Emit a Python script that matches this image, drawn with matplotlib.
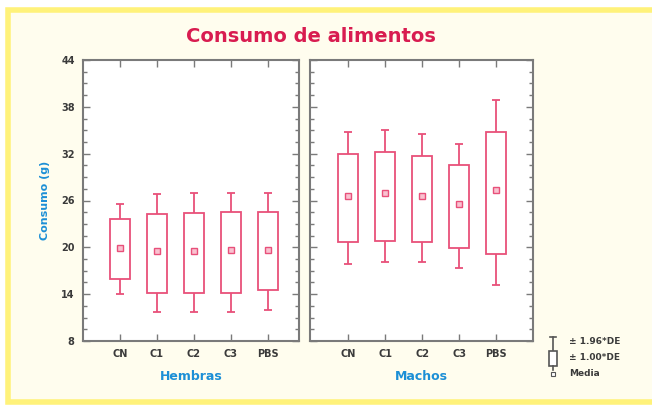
import numpy as np
import matplotlib
matplotlib.use("Agg")
import matplotlib.pyplot as plt
from matplotlib.patches import Rectangle
from matplotlib.lines import Line2D

# Datos
grupos = ['CN', 'C1', 'C2', 'C3', 'PBS']

# Hembras
media_h = [19.9, 19.5, 19.5, 19.6, 19.7]
de1_lo_h = [15.9, 14.2, 14.2, 14.2, 14.5]
de1_hi_h = [23.6, 24.3, 24.4, 24.5, 24.5]
de196_lo_h = [14.0, 11.7, 11.7, 11.7, 12.0]
de196_hi_h = [25.5, 26.8, 27.0, 27.0, 27.0]

# Machos
media_m = [26.6, 26.9, 26.6, 25.5, 27.4]
de1_lo_m = [20.7, 20.8, 20.7, 19.9, 19.1]
de1_hi_m = [31.9, 32.2, 31.7, 30.5, 34.8]
de196_lo_m = [17.9, 18.1, 18.1, 17.3, 15.2]
de196_hi_m = [34.8, 35.0, 34.5, 33.2, 38.9]

rojo = '#E8507A'
azul = '#1C8FD6'
gris = '#7a7a7a'
texto = '#3a3a3a'

fig = plt.figure(figsize=(6.52, 4.05), dpi=100)
fig.patch.set_facecolor('white')

# marco amarillo (sin borde a la derecha)
fig.add_artist(Rectangle((7.5 / 652, 1 - 401.5 / 405), 1.1, (401.5 - 9.5) / 405,
                         transform=fig.transFigure, facecolor='#FFFDEE',
                         edgecolor='#FFF27A', linewidth=4, zorder=0))

fig.text(311 / 652, 1 - 37 / 405, 'Consumo de alimentos', ha='center', va='center',
         fontsize=14, fontweight='bold', color='#D81C50')

ax1 = fig.add_axes([83 / 652, 64 / 405, 216 / 652, 281 / 405])
ax2 = fig.add_axes([310 / 652, 64 / 405, 223 / 652, 281 / 405])


def dibujar(ax, media, lo1, hi1, lo2, hi2, xlim, etiqueta):
    x = np.arange(1, len(grupos) + 1)
    lo1 = np.array(lo1)
    hi1 = np.array(hi1)
    ax.bar(x, hi1 - lo1, bottom=lo1, width=0.54, fill=False, edgecolor=rojo,
           linewidth=1.3, zorder=3)
    ax.vlines(x, lo2, lo1, color=rojo, linewidth=1.3, zorder=3)
    ax.vlines(x, hi1, hi2, color=rojo, linewidth=1.3, zorder=3)
    ax.hlines(lo2, x - 0.1, x + 0.1, color=rojo, linewidth=1.3, zorder=3)
    ax.hlines(hi2, x - 0.1, x + 0.1, color=rojo, linewidth=1.3, zorder=3)
    ax.plot(x, media, 's', ms=4.5, mfc='#F9C2D0', mec=rojo, mew=1.0, zorder=4)

    ax.set_xlim(*xlim)
    ax.set_ylim(8, 44)
    ax.set_xticks(x)
    ax.set_xticklabels(grupos, fontsize=7, fontweight='bold', color=texto)
    ax.set_yticks(np.arange(8, 45, 6))
    ax.set_yticks(np.arange(8, 44.1, 1.5), minor=True)
    ax.tick_params(which='both', direction='in', top=True, right=True,
                   color=gris, width=1.0)
    ax.tick_params(which='major', length=5, pad=6)
    ax.tick_params(which='minor', length=3)
    ax.set_facecolor('white')
    for s in ax.spines.values():
        s.set_color(gris)
        s.set_linewidth(1.5)
    ax.set_xlabel(etiqueta, fontsize=9, fontweight='bold', color=azul, labelpad=8)


dibujar(ax1, media_h, de1_lo_h, de1_hi_h, de196_lo_h, de196_hi_h, (0, 5.84), 'Hembras')
dibujar(ax2, media_m, de1_lo_m, de1_hi_m, de196_lo_m, de196_hi_m, (-0.03, 6.0), 'Machos')

ax1.set_yticklabels([str(v) for v in range(8, 45, 6)], fontsize=7,
                    fontweight='bold', color=texto)
ax1.set_ylabel('Consumo (g)', fontsize=8, fontweight='bold', color=azul, labelpad=8)
ax2.set_yticklabels([])

# leyenda
lx = 553 / 652


def fy(p):
    return 1 - p / 405


fig.add_artist(Line2D([lx, lx], [fy(337), fy(350)], color='#555555', lw=1.2))
fig.add_artist(Line2D([lx - 3 / 652, lx + 3 / 652], [fy(337), fy(337)], color='#555555', lw=1.2))
fig.add_artist(Rectangle((lx - 4 / 652, fy(366)), 8 / 652, 15 / 405, transform=fig.transFigure,
                         facecolor='white', edgecolor='#555555', lw=1.2))
fig.add_artist(Line2D([lx, lx], [fy(366), fy(370)], color='#555555', lw=1.2))
fig.add_artist(Line2D([lx], [fy(374)], marker='s', ms=3.5, mfc='white', mec='#555555', mew=0.8))
fig.text(569 / 652, fy(342), '± 1.96*DE', fontsize=6.5, fontweight='bold', color=texto, va='center')
fig.text(569 / 652, fy(358), '± 1.00*DE', fontsize=6.5, fontweight='bold', color=texto, va='center')
fig.text(569 / 652, fy(374), 'Media', fontsize=6.5, fontweight='bold', color=texto, va='center')

fig.savefig('out.png', dpi=100)
